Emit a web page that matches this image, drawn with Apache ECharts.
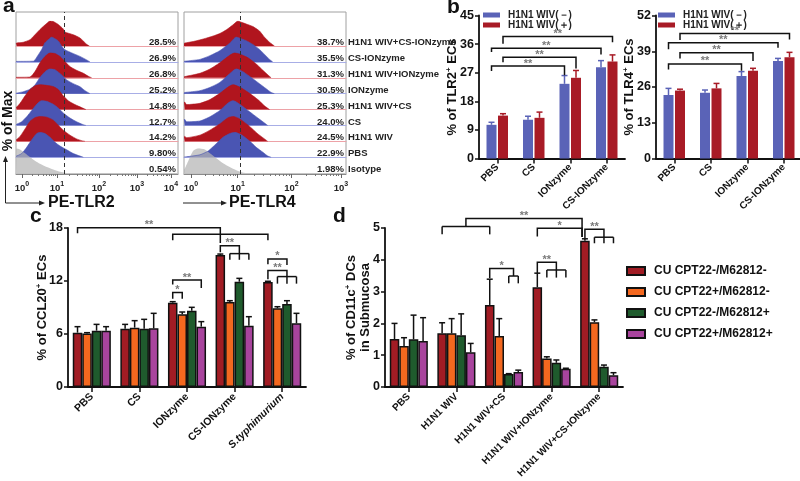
<!DOCTYPE html>
<html><head><meta charset="utf-8">
<script src="https://cdn.jsdelivr.net/npm/echarts@6/dist/echarts.min.js"></script>
<style>html,body{margin:0;padding:0;background:#fff}#chart{width:800px;height:481px}</style>
</head><body><div id="chart"></div>
<script>
// ================= DATA =================
// Panel a: histogram rows (top to bottom)
const aRowNames = ['H1N1 WIV+CS-IONzyme','CS-IONzyme','H1N1 WIV+IONzyme','IONzyme','H1N1 WIV+CS','CS','H1N1 WIV','PBS','Isotype'];
const aRowKinds = ['red','blue','red','blue','red','blue','red','blue','iso'];
const aTLR2Pct = ['28.5%','26.9%','26.8%','25.2%','14.8%','12.7%','14.2%','9.80%','0.54%'];
const aTLR4Pct = ['38.7%','35.5%','31.3%','30.5%','25.3%','24.0%','24.5%','22.9%','1.98%'];
// decade positions on the display channel scale (0-1000)
const aTLR2Decades = [37,253,512,747,957];   // 10^0 .. 10^4
const aTLR4Decades = [43,331,663,969];       // 10^0 .. 10^3
const aTLR2Gate = 298;
const aTLR4Gate = 350;
// histograms: [channel, % of max]
const aTLR2Hist = [
 [[0,10],[4,12],[45,15],[86,25],[107,38],[148,66],[189,90],[210,100],[230,98],[261,86],[292,68],[302,56],[354,45],[395,32],[436,7],[453,0]],
 [[0,2],[107,3],[138,29],[158,49],[179,77],[205,92],[220,100],[235,95],[261,84],[282,63],[302,49],[344,36],[395,22],[436,8],[457,0]],
 [[0,2],[86,3],[117,25],[148,60],[179,85],[210,100],[241,97],[272,85],[302,65],[333,45],[374,30],[416,18],[447,6],[467,0]],
 [[0,2],[4,3],[45,8],[86,18],[117,35],[148,65],[179,88],[210,100],[241,96],[282,75],[313,55],[354,40],[395,28],[426,12],[457,0]],
 [[0,8],[4,10],[25,25],[56,55],[86,80],[117,95],[148,100],[189,97],[230,92],[261,80],[292,55],[323,35],[364,20],[405,8],[432,0]],
 [[0,4],[4,5],[35,15],[66,35],[97,60],[128,85],[158,100],[189,97],[230,85],[261,70],[292,50],[333,30],[374,15],[416,3],[432,0]],
 [[0,6],[4,8],[25,20],[56,50],[86,80],[117,95],[148,100],[189,97],[230,85],[261,65],[292,45],[333,25],[374,10],[405,3],[426,0]],
 [[0,4],[4,5],[35,15],[66,40],[97,70],[128,95],[148,100],[179,95],[210,80],[241,60],[272,45],[313,30],[354,15],[395,5],[416,0]],
 [[0,95],[4,100],[25,95],[56,80],[86,65],[117,50],[148,38],[179,28],[210,20],[241,12],[272,6],[302,2],[323,0]]
];
const aTLR4Hist = [
 [[0,10],[6,12],[57,18],[119,28],[180,40],[221,50],[262,65],[303,85],[333,100],[354,95],[384,88],[425,78],[466,60],[497,35],[528,15],[558,0]],
 [[0,2],[6,3],[98,10],[160,25],[221,45],[282,75],[323,100],[344,95],[384,85],[425,70],[466,50],[497,30],[528,10],[548,0]],
 [[0,4],[6,5],[98,18],[160,35],[221,60],[282,90],[313,100],[344,95],[395,80],[446,55],[487,30],[517,12],[538,0]],
 [[0,4],[6,5],[98,12],[160,25],[221,45],[282,80],[323,100],[364,88],[425,60],[466,40],[507,20],[538,5],[558,0]],
 [[0,28],[4,30],[16,20],[98,25],[160,40],[221,65],[272,90],[303,100],[344,90],[405,65],[456,40],[497,15],[528,0]],
 [[0,22],[4,25],[16,15],[98,18],[160,35],[221,60],[272,90],[303,100],[344,85],[405,55],[456,30],[497,10],[517,0]],
 [[0,18],[4,20],[16,15],[98,25],[160,45],[221,70],[272,95],[303,100],[344,90],[405,60],[456,30],[497,10],[517,0]],
 [[0,1],[16,2],[98,10],[149,25],[200,55],[241,80],[282,95],[313,100],[354,90],[405,65],[446,40],[487,20],[517,5],[538,0]],
 [[0,15],[6,20],[27,50],[57,90],[88,100],[129,95],[160,80],[200,60],[241,40],[282,25],[323,12],[354,4],[384,0]]
];

// Panel b
const bCats = ['PBS','CS','IONzyme','CS-IONzyme'];
const bSeriesNames = ['H1N1 WIV(－)','H1N1 WIV(＋)'];
const bTLR2Neg = [10.6,12.2,23.5,28.7];
const bTLR2NegErr = [11.4,13.3,26.1,30.8];
const bTLR2Pos = [13.5,12.8,25.4,30.5];
const bTLR2PosErr = [14.1,14.6,27.7,32.6];
const bTLR4Neg = [23.1,23.9,30.0,35.5];
const bTLR4NegErr = [25.5,24.9,31.6,36.4];
const bTLR4Pos = [24.7,25.5,31.9,36.8];
const bTLR4PosErr = [25.2,27.3,32.8,38.6];
// brackets: [catA, serA, catB, serB, height, endA, endB, label]
const bTLR2Brackets = [[0,0,2,0,29.1,27.5,26.2,'**'],[0,1,2,1,31.9,30.3,28.3,'**'],[0,0,3,0,34.7,33.5,32.7,'**'],[0,1,3,1,38.4,36.1,36.6,'**']];
const bTLR4Brackets = [[0,0,2,0,34.4,32.4,31.9,'**'],[0,1,2,1,38.5,36.4,35.5,'**'],[0,0,3,0,42.1,39.7,40.3,'**'],[0,1,3,1,45.5,43.1,43.3,'**']];

// Panels c and d
const cdSeriesNames = ['CU CPT22-/M62812-','CU CPT22+/M62812-','CU CPT22-/M62812+','CU CPT22+/M62812+'];
const cCats = ['PBS','CS','IONzyme','CS-IONzyme','S.typhimurium'];
const cVals = [[6.15,6.6,9.55,14.94,11.89],[6.07,6.72,8.23,9.62,8.91],[6.38,6.6,8.64,11.92,9.4],[6.38,6.64,6.83,6.94,7.21]];
const cErrs = [[6.83,7.09,9.66,15.05,11.97],[6.15,7.51,8.49,9.77,9.09],[7.09,7.66,9.02,12.3,9.77],[6.83,8.34,7.4,7.96,8.34]];
const cBrackets = [[0,0,3,0,18.04,17.4,16.3,'**'],[2,0,4,0,17.3,16.6,16.6,''],[3,0,3,2,16.0,15.25,15.1,'**'],
  [2,0,2,3,12.1,11.6,11.2,'**'],[2,0,2,1,10.7,10.0,10.0,'*'],[4,0,4,2,14.5,13.9,13.8,'*'],[4,0,4,2,13.2,12.2,12.5,'**']];
const cCombs = [[[[3,1],[3,2],[3,3]],15.1,14.4],[[[4,1],[4,2],[4,3]],12.5,11.7]];
const dCats = ['PBS','H1N1 WIV','H1N1 WIV+CS','H1N1 WIV+IONzyme','H1N1 WIV+CS-IONzyme'];
const dVals = [[1.51,1.69,2.58,3.14,4.60],[1.29,1.69,1.60,0.90,2.04],[1.50,1.63,0.41,0.76,0.64],[1.45,1.09,0.47,0.57,0.37]];
const dErrs = [[2.00,2.02,3.39,3.58,4.66],[1.55,2.15,2.15,0.95,2.11],[2.26,2.30,0.42,0.85,0.69],[2.18,1.37,0.53,0.59,0.45]];
const dBrackets = [[1.5,0,4,-0.3,5.30,5.05,4.72,'**'],[3,0,4,-0.3,4.99,4.73,4.72,'*'],[4,0,4,2,4.96,4.68,4.71,'**'],
  [2,0,2,2.5,3.73,3.42,3.49,'*'],[3,0,3,2,3.92,3.58,3.68,'**']];
const dCombs = [[[[1,0],[2,0]],5.05,4.80],[[[4,1],[4,2],[4,3]],4.71,4.52],[[[2,2],[2,3]],3.49,3.26],[[[3,1],[3,2],[3,3]],3.68,3.44]];

// ================= BUILD =================
const FONT = '"Liberation Sans", Arial, Helvetica, sans-serif';
const grids=[], xAxes=[], yAxes=[], series=[], legends=[], graphics=[];
const KIND = {red:{fill:'#b1151e', base:'#eda2a7'}, blue:{fill:'#4a55b3', base:'#a8aee6'}, iso:{fill:'rgba(180,180,180,0.72)', base:'#c4c4c4'}};

// ---- panel a ----
const aPanels = [
  {left:16, width:162, decades:aTLR2Decades, gate:aTLR2Gate, hist:aTLR2Hist, pct:aTLR2Pct, names:false},
  {left:184, width:162, decades:aTLR4Decades, gate:aTLR4Gate, hist:aTLR4Hist, pct:aTLR4Pct, names:true}
];
aPanels.forEach(P=>{
  const gi = grids.length;
  grids.push({left:P.left, top:12, width:P.width, height:162, show:true, borderColor:'#a0a0a0', borderWidth:1, backgroundColor:'transparent', outerBoundsMode:'none'});
  const minor=[];
  for(let k=0;k<P.decades.length-1;k++) for(let m=2;m<=9;m++) minor.push(P.decades[k]+(P.decades[k+1]-P.decades[k])*Math.log10(m));
  const xi = xAxes.length;
  xAxes.push({gridIndex:gi, type:'value', min:0, max:1000, position:'bottom',
    axisLine:{show:true, lineStyle:{color:'#8a8a8a', width:1}},
    axisTick:{show:true, customValues:P.decades, length:4, lineStyle:{color:'#666'}},
    axisLabel:{show:true, customValues:P.decades, margin:7, formatter:v=>'{b|10}{s|'+P.decades.indexOf(v)+'}',
      rich:{b:{fontSize:9.5, fontWeight:'bold', color:'#222', fontFamily:FONT, lineHeight:14},
            s:{fontSize:7, fontWeight:'bold', color:'#222', fontFamily:FONT, lineHeight:8, verticalAlign:'top'}}},
    splitLine:{show:false}});
  xAxes.push({gridIndex:gi, type:'value', min:0, max:1000, position:'bottom',
    axisLine:{show:false}, axisTick:{show:true, customValues:minor, length:2, lineStyle:{color:'#777'}},
    axisLabel:{show:false}, splitLine:{show:false}});
  const yi = yAxes.length;
  yAxes.push({gridIndex:gi, type:'value', min:0, max:1, show:false});
  series.push({type:'line', xAxisIndex:xi, yAxisIndex:yi, data:[], z:10, silent:true,
    markLine:{silent:true, symbol:'none', label:{show:false}, lineStyle:{type:[4,3], color:'#333', width:1}, data:[{xAxis:P.gate}]}});
  for(let i=0;i<9;i++){
    const base = 46 + 15.9*i;
    const k = KIND[aRowKinds[i]];
    const g = grids.length;
    grids.push({left:P.left, width:P.width, top:base-25, height:25, outerBoundsMode:'none'});
    const rx = xAxes.length;
    xAxes.push({gridIndex:g, type:'value', min:0, max:1000, axisLine:{show:true, lineStyle:{color:k.base, width:1}}, axisTick:{show:false}, axisLabel:{show:false}, splitLine:{show:false}});
    const ry = yAxes.length;
    yAxes.push({gridIndex:g, type:'value', min:0, max:100, show:false});
    series.push({type:'line', xAxisIndex:rx, yAxisIndex:ry, data:P.hist[i], symbol:'none', smooth:0.2, silent:true, z:2,
      lineStyle:{width:aRowKinds[i]==='iso'?0:0.6, color:k.fill}, areaStyle:{color:k.fill, opacity:1}});
    graphics.push({type:'text', x:P.left+P.width-2, y:base-3.6, z:20, style:{text:P.pct[i], align:'right', verticalAlign:'middle', font:'bold 9.5px '+FONT, fill:'#222'}});
    if(P.names) graphics.push({type:'text', x:P.left+P.width+2, y:base-3.6, z:20, style:{text:aRowNames[i], align:'left', verticalAlign:'middle', font:'bold 9.5px '+FONT, fill:'#222'}});
  }
});

// ---- helpers for bar panels ----
function catAxis(gi, cats, fontSize, margin, fmt, rich){
  return {gridIndex:gi, type:'category', data:cats,
    axisLine:{show:true, lineStyle:{color:'#111', width:1.8}},
    axisTick:{show:true, alignWithLabel:true, length:5, lineStyle:{color:'#111', width:1.5}},
    axisLabel:{show:true, interval:0, rotate:45, margin:margin, color:'#111', fontWeight:'bold', fontSize:fontSize, fontFamily:FONT, formatter:fmt, rich:rich},
    splitLine:{show:false}};
}
const supRich = {sup:{fontSize:8, fontWeight:'bold', color:'#111', fontFamily:FONT, verticalAlign:'top', lineHeight:8}};
function valAxis(gi, max, interval, name, nameGap, fs){
  return {gridIndex:gi, type:'value', min:0, max:max, interval:interval,
    axisLine:{show:true, lineStyle:{color:'#111', width:1.8}},
    axisTick:{show:true, length:4, lineStyle:{color:'#111', width:1.5}},
    axisLabel:{color:'#111', fontWeight:'bold', fontSize:fs, margin:5, fontFamily:FONT},
    splitLine:{show:false},
    name:name, nameLocation:'middle', nameGap:nameGap, nameMoveOverlap:false,
    nameTextStyle:{color:'#111', fontWeight:'bold', fontSize:13, fontFamily:FONT, lineHeight:14, rich:supRich}};
}
function errSeries(xi, yi, vals, errs, s, n, stepFn, color, capHalf){
  return {type:'custom', xAxisIndex:xi, yAxisIndex:yi, z:4, silent:true,
    data: vals.map((v,i)=>[i, v, errs[i]]),
    renderItem(params, api){
      const c = api.value(0);
      const p0 = api.coord([c, api.value(1)]);
      const p1 = api.coord([c, api.value(2)]);
      const band = api.size([1,0])[0];
      const x = p0[0] + (s-(n-1)/2)*stepFn(band);
      const st = {stroke:color, lineWidth:1.5};
      return {type:'group', children:[
        {type:'line', shape:{x1:x,y1:p0[1],x2:x,y2:p1[1]}, style:st},
        {type:'line', shape:{x1:x-capHalf,y1:p1[1],x2:x+capHalf,y2:p1[1]}, style:st}]};
    }};
}
function bracketSeries(xi, yi, simple, combs, n, stepFn){
  return {type:'custom', xAxisIndex:xi, yAxisIndex:yi, z:6, silent:true, clip:false, data:[[0,0]],
    renderItem(params, api){
      const band = api.size([1,0])[0];
      const x0 = api.coord([0,0])[0];
      const X = (c,s)=> x0 + c*band + (s-(n-1)/2)*stepFn(band);
      const Y = v => api.coord([0,v])[1];
      const ch=[];
      const ls = {stroke:'#111', lineWidth:1.5, fill:null};
      simple.forEach(b=>{
        const [cA,sA,cB,sB,h,eA,eB,lab]=b;
        const xa=X(cA,sA), xb=X(cB,sB), yh=Y(h);
        ch.push({type:'polyline', shape:{points:[[xa,Y(eA)],[xa,yh],[xb,yh],[xb,Y(eB)]]}, style:ls});
        if(lab) ch.push({type:'text', style:{text:lab, x:(xa+xb)/2, y:yh-2.5, align:'center', verticalAlign:'middle', font:'bold 11px '+FONT, fill:'#7a7a7a'}});
      });
      combs.forEach(cb=>{
        const [teeth,h,e]=cb; const yh=Y(h), ye=Y(e);
        const xs=teeth.map(t=>X(t[0],t[1]));
        ch.push({type:'line', shape:{x1:Math.min(...xs),y1:yh,x2:Math.max(...xs),y2:yh}, style:ls});
        xs.forEach(x=>ch.push({type:'line', shape:{x1:x,y1:yh,x2:x,y2:ye}, style:ls}));
      });
      return {type:'group', children:ch};
    }};
}

// ---- panel b ----
const bBlue='#5a63b7', bRed='#a81b26';
const bPanels = [
  {left:479, max:45, interval:9, name:'% of TLR2{sup|+} ECs', neg:bTLR2Neg, negErr:bTLR2NegErr, pos:bTLR2Pos, posErr:bTLR2PosErr, br:bTLR2Brackets, legLeft:483},
  {left:656, max:52, interval:13, name:'% of TLR4{sup|+} ECs', neg:bTLR4Neg, negErr:bTLR4NegErr, pos:bTLR4Pos, posErr:bTLR4PosErr, br:bTLR4Brackets, legLeft:658}
];
const bStep = ()=>11.5;
bPanels.forEach(P=>{
  const gi=grids.length;
  grids.push({left:P.left, top:15.5, width:146, height:143, outerBoundsMode:'none'});
  const xi=xAxes.length; xAxes.push(catAxis(gi, bCats, 10, 7));
  const yi=yAxes.length; yAxes.push(valAxis(gi, P.max, P.interval, P.name, 20, 12.5));
  series.push({type:'bar', name:bSeriesNames[0], xAxisIndex:xi, yAxisIndex:yi, data:P.neg, barWidth:10, barGap:'15%', itemStyle:{color:bBlue}, z:3, silent:true});
  series.push({type:'bar', name:bSeriesNames[1], xAxisIndex:xi, yAxisIndex:yi, data:P.pos, barWidth:10, barGap:'15%', itemStyle:{color:bRed}, z:3, silent:true});
  series.push(errSeries(xi, yi, P.neg, P.negErr, 0, 2, bStep, bBlue, 3));
  series.push(errSeries(xi, yi, P.pos, P.posErr, 1, 2, bStep, bRed, 3));
  series.push(bracketSeries(xi, yi, P.br, [], 2, bStep));
  legends.push({left:P.legLeft, top:10, padding:0, orient:'vertical', itemWidth:17, itemHeight:5, itemGap:0, icon:'rect', selectedMode:false,
    data:bSeriesNames, textStyle:{fontWeight:'bold', fontSize:10, color:'#222', fontFamily:FONT, lineHeight:10, padding:[0,0,0,3]}});
});

// ---- panels c, d ----
const cdColors = ['#a11c24','#f4681f','#1f5b2d','#a8449d'];
const cdStep = band=>band*0.2;
const cdPanels = [
  {left:68, max:18, interval:6, name:'% of CCL20{sup|+} ECs', nameGap:19, cats:cCats, vals:cVals, errs:cErrs, br:cBrackets, combs:cCombs, fs:10.5,
   fmt:v=>v==='S.typhimurium'?'{i|'+v+'}':v, rich:{i:{fontStyle:'italic', fontWeight:'bold', fontSize:10.5, color:'#111', fontFamily:FONT}}},
  {left:385, max:5, interval:1, name:'% of CD11c{sup|+} DCs\nin Submucosa', nameGap:13, cats:dCats, vals:dVals, errs:dErrs, br:dBrackets, combs:dCombs, fs:10}
];
cdPanels.forEach(P=>{
  const gi=grids.length;
  grids.push({left:P.left, top:228, width:238, height:159, outerBoundsMode:'none'});
  const xi=xAxes.length; xAxes.push(catAxis(gi, P.cats, P.fs, 8, P.fmt, P.rich));
  const yi=yAxes.length; yAxes.push(valAxis(gi, P.max, P.interval, P.name, P.nameGap, 12.5));
  P.vals.forEach((v,s)=>{
    series.push({type:'bar', name:cdSeriesNames[s], xAxisIndex:xi, yAxisIndex:yi, data:v, barCategoryGap:'20%', barGap:'0%', z:3, silent:true,
      itemStyle:{color:cdColors[s], borderColor:'#111', borderWidth:1.5}});
  });
  P.vals.forEach((v,s)=> series.push(errSeries(xi, yi, v, P.errs[s], s, 4, cdStep, '#111', 3)));
  series.push(bracketSeries(xi, yi, P.br, P.combs, 4, cdStep));
});
legends.push({left:626, top:265, padding:0, orient:'vertical', itemWidth:18, itemHeight:8, itemGap:9, icon:'rect', selectedMode:false,
  data:cdSeriesNames, textStyle:{fontWeight:'bold', fontSize:12, color:'#111', fontFamily:FONT, padding:[0,0,0,4]}});

// ---- decorations: panel letters, axis titles, arrows ----
const letter = (t,x,y)=>({type:'text', x:x, y:y, z:30, style:{text:t, align:'left', verticalAlign:'middle', font:'bold 21px '+FONT, fill:'#111'}});
graphics.push(letter('a',3,6), letter('b',447,7), letter('c',30,216), letter('d',333,216));
graphics.push({type:'text', x:8, y:121, rotation:Math.PI/2, z:30, style:{text:'% of Max', align:'center', verticalAlign:'middle', font:'bold 14px '+FONT, fill:'#111'}});
const ln = (x1,y1,x2,y2)=>({type:'line', z:30, shape:{x1,y1,x2,y2}, style:{stroke:'#222', lineWidth:1}});
const poly = pts=>({type:'polygon', z:30, shape:{points:pts}, style:{fill:'#222'}});
graphics.push(ln(5.5,203,5.5,160), poly([[5.5,156],[3,162],[8,162]]));
graphics.push(ln(5.5,203,41,203), poly([[45,203],[39,200.5],[39,205.5]]));
graphics.push(ln(183,203,223,203), poly([[227,203],[221,200.5],[221,205.5]]));
graphics.push({type:'text', x:48, y:203, z:30, style:{text:'PE-TLR2', align:'left', verticalAlign:'middle', font:'bold 16px '+FONT, fill:'#111'}});
graphics.push({type:'text', x:229, y:203, z:30, style:{text:'PE-TLR4', align:'left', verticalAlign:'middle', font:'bold 16px '+FONT, fill:'#111'}});

const chart = echarts.init(document.getElementById('chart'), null, {renderer:'canvas'});
chart.setOption({animation:false, backgroundColor:'#fff', textStyle:{fontFamily:FONT},
  grid:grids, xAxis:xAxes, yAxis:yAxes, series:series, legend:legends, graphic:graphics, tooltip:{show:false}});
</script></body></html>
